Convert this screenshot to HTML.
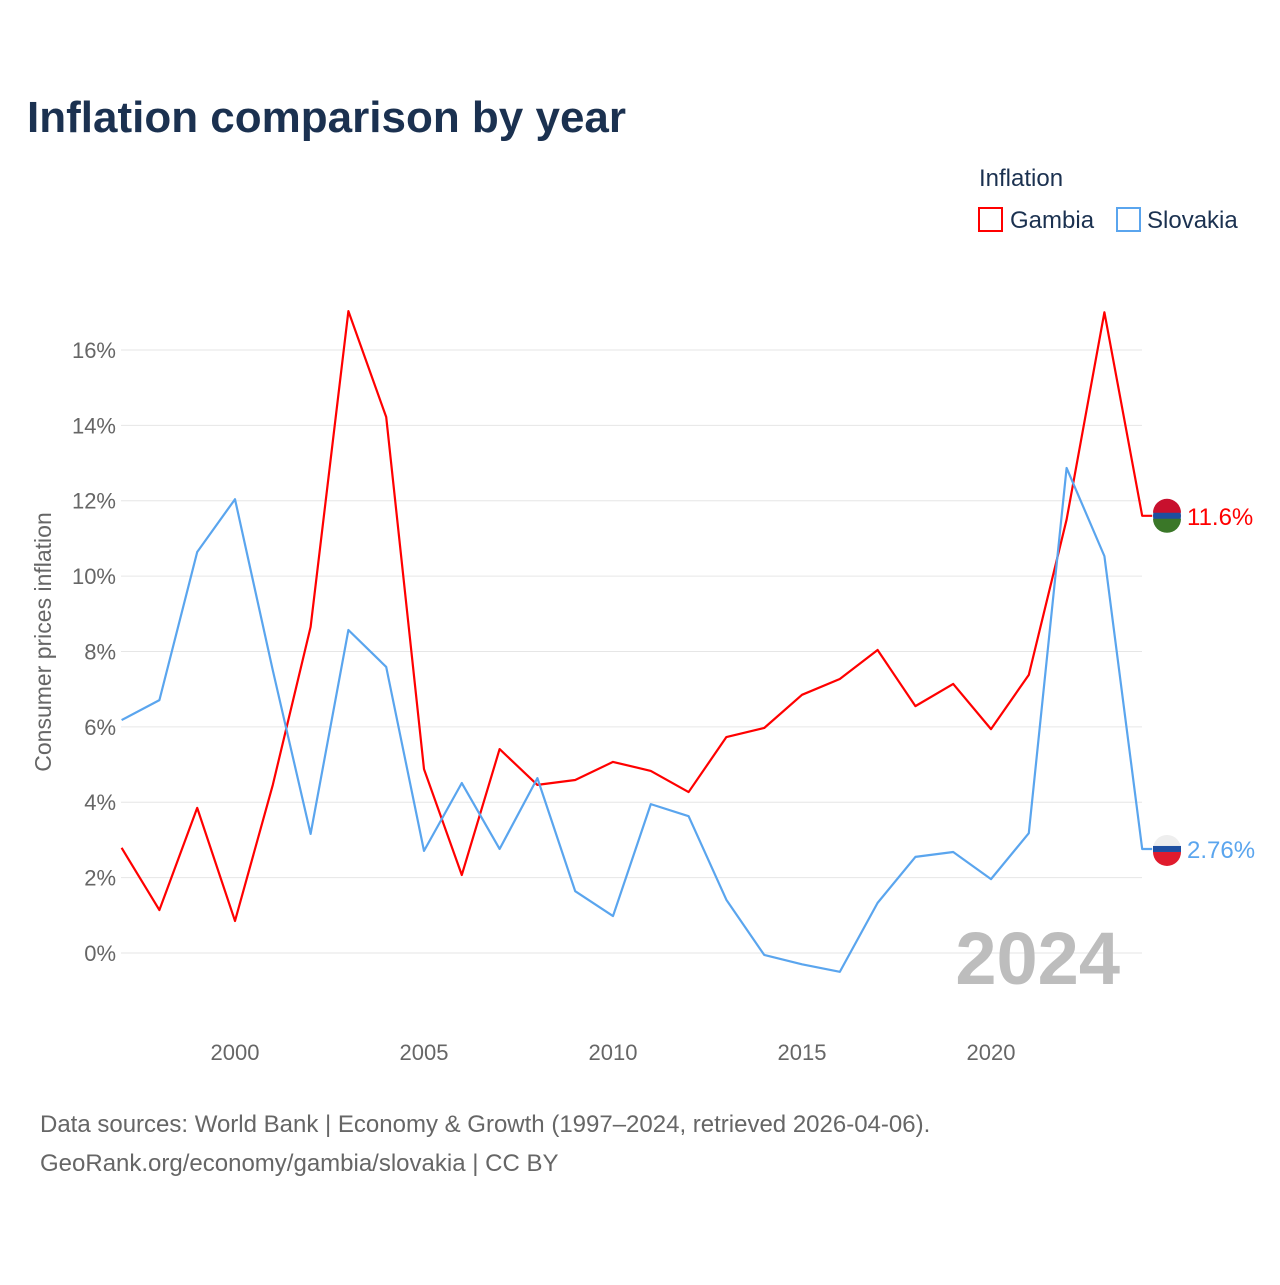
<!DOCTYPE html>
<html><head><meta charset="utf-8"><style>
body{margin:0;background:#fff;font-family:"Liberation Sans",sans-serif}
svg text{font-family:"Liberation Sans",sans-serif}
</style></head><body>
<svg width="1280" height="1280" viewBox="0 0 1280 1280" id="chart">
<text x="27" y="132" font-size="44" font-weight="bold" fill="#1b3150">Inflation comparison by year</text>
<text x="979" y="186" font-size="24" fill="#1b3150">Inflation</text>
<g><rect x="979" y="208" width="23" height="23" fill="none" stroke="#f00" stroke-width="2"/><text x="1010" y="228" font-size="24" fill="#1b3150">Gambia</text></g>
<g><rect x="1117" y="208" width="23" height="23" fill="none" stroke="#5aa5ee" stroke-width="2"/><text x="1147" y="228" font-size="24" fill="#1b3150">Slovakia</text></g>
<g id="grid"></g><g id="xt"></g>
<text transform="translate(51,642) rotate(-90)" text-anchor="middle" font-size="23" fill="#666">Consumer prices inflation</text>
<text x="1120" y="984" text-anchor="end" font-size="74" font-weight="bold" fill="#bdbdbd">2024</text>
<g id="series"></g>
<text x="40" y="1132" font-size="24" fill="#666">Data sources: World Bank | Economy &amp; Growth (1997–2024, retrieved 2026-04-06).</text>
<text x="40" y="1171" font-size="24" fill="#666">GeoRank.org/economy/gambia/slovakia | CC BY</text>
</svg>
<script>
const years=[1997,1998,1999,2000,2001,2002,2003,2004,2005,2006,2007,2008,2009,2010,2011,2012,2013,2014,2015,2016,2017,2018,2019,2020,2021,2022,2023,2024];
const gambia=[2.79,1.14,3.85,0.85,4.46,8.65,17.03,14.22,4.88,2.07,5.41,4.46,4.59,5.07,4.83,4.27,5.73,5.97,6.85,7.27,8.04,6.55,7.14,5.94,7.38,11.5,17.0,11.6];
const slovakia=[6.18,6.71,10.64,12.04,7.5,3.16,8.57,7.59,2.71,4.51,2.76,4.64,1.64,0.98,3.95,3.63,1.41,-0.05,-0.3,-0.5,1.33,2.55,2.68,1.96,3.18,12.87,10.53,2.76];
const yTicks=[0,2,4,6,8,10,12,14,16];
const xTicks=[2000,2005,2010,2015,2020];
const NS="http://www.w3.org/2000/svg";
const X=y=>121.6+(y-1997)*37.8, Y=v=>953-v*37.69;
function mk(t,a,p){const e=document.createElementNS(NS,t);for(const k in a)e.setAttribute(k,a[k]);p.appendChild(e);return e;}
const g=document.getElementById('grid');
yTicks.forEach(v=>{
 const l=mk('line',{x1:121,x2:1142,y1:Y(v),y2:Y(v),stroke:'#e6e6e6','stroke-width':1},g);
 
 
 const t=mk('text',{x:116,y:Y(v)+8,'text-anchor':'end','font-size':22,fill:'#666'},g);t.textContent=v+'%';
 
 
});
const xt=document.getElementById('xt');
xTicks.forEach(v=>{
 const t=mk('text',{x:X(v),y:1060,'text-anchor':'middle','font-size':22,fill:'#666'},xt);t.textContent=v;
 
 
});
const s=document.getElementById('series');
function draw(vals,col,name,label){
 const pts=vals.map((v,i)=>X(years[i])+','+Y(v)).join(' ')+' '+(X(2024)+10)+','+Y(vals[vals.length-1]);
 const p=mk('polyline',{points:pts,fill:'none',stroke:col,'stroke-width':2.2,'stroke-linejoin':'round'},s);
 
 
 const last=Y(vals[vals.length-1]);
 const c=mk('circle',{cx:1167,cy:last,r:14,fill:name=='gambia'?'#1e4fa0':'#eee'},s);
 
 
 if(name=='gambia'){mk('path',{d:`M1153 ${last-3}A14 14 0 0 1 1181 ${last-3}Z`,fill:'#c8102e'},s);mk('path',{d:`M1153 ${last+3}A14 14 0 0 0 1181 ${last+3}Z`,fill:'#3a7728'},s);}
 else{mk('rect',{x:1153,y:last-3,width:28,height:6,fill:'#1e4fa0'},s);mk('path',{d:`M1153 ${last+3}A14 14 0 0 0 1181 ${last+3}Z`,fill:'#e01b2d'},s);}
 const t=mk('text',{x:1187,y:last+9,'font-size':24,fill:col},s);t.textContent=label;
 
 
}
draw(gambia,'#ff0000','gambia','11.6%');
draw(slovakia,'#5aa5ee','slovakia','2.76%');
</script>
</body></html>
